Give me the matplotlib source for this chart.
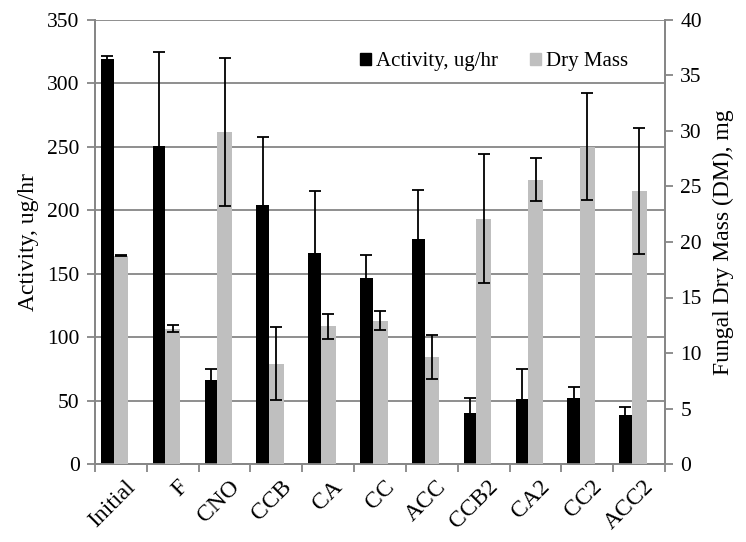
import matplotlib
matplotlib.use('Agg')
import matplotlib.pyplot as plt
import numpy as np
from matplotlib.patches import Patch

plt.rcParams['font.family'] = ['Liberation Serif', 'DejaVu Serif']

categories = ['Initial', 'F', 'CNO', 'CCB', 'CA', 'CC', 'ACC', 'CCB2', 'CA2', 'CC2', 'ACC2']
activity = [319, 251, 66, 204, 166, 147, 177, 40, 51, 52, 39]
activity_err = [3, 74, 9, 54, 49, 18, 39, 12, 24, 9, 6]
dry_mass = [18.75, 12.2, 29.9, 9.05, 12.4, 12.9, 9.65, 22.1, 25.6, 28.6, 24.6]
dry_mass_err = [0.05, 0.35, 6.7, 3.3, 1.15, 0.85, 2.0, 5.8, 1.95, 4.8, 5.7]

black = '#000000'
gray = '#bfbfbf'
axis_gray = '#868686'

fig = plt.figure(figsize=(7.46, 5.42), dpi=100)
ax = fig.add_axes([95 / 746, 78 / 542, 570 / 746, 444 / 542])
ax2 = ax.twinx()

x = np.arange(len(categories))
ax.bar(x - 0.5 + 0.115, activity, width=0.245, align='edge', color=black, zorder=3)
ax.errorbar(x - 0.5 + 0.115 + 0.1225, activity, yerr=activity_err, fmt='none',
            ecolor=black, elinewidth=1.3, capsize=4.3, capthick=1.3, zorder=4)
ax2.bar(x - 0.5 + 0.36, dry_mass, width=0.285, align='edge', color=gray, zorder=3)
ax2.errorbar(x - 0.5 + 0.36 + 0.1425, dry_mass, yerr=dry_mass_err, fmt='none',
             ecolor=black, elinewidth=1.3, capsize=4.3, capthick=1.3, zorder=4)

ax.set_xlim(-0.5, len(categories) - 0.5)
ax.set_ylim(0, 350)
ax2.set_ylim(0, 40)
ax.set_yticks(np.arange(0, 351, 50))
ax2.set_yticks(np.arange(0, 41, 5))

ax.yaxis.grid(True, color=axis_gray, linewidth=1.3, zorder=0)
ax.set_axisbelow(True)

ax.set_xticks(np.arange(-0.5, len(categories), 1.0))
ax.set_xticklabels([])
ax.set_xticks(x + 0.08, minor=True)
ax.set_xticklabels(categories, minor=True, rotation=45, ha='right', va='top',
                   rotation_mode='anchor', fontsize=17)
ax.tick_params(axis='x', which='minor', length=0, pad=9)
ax.tick_params(axis='x', which='major', length=6, width=1.3, color=axis_gray, direction='out')
ax.tick_params(axis='y', length=6, width=1.3, color=axis_gray, labelsize=15.5, pad=5)
ax2.tick_params(axis='y', length=6, width=1.3, color=axis_gray, labelsize=15.5, pad=5)

for a in (ax, ax2):
    for side in ('left', 'right', 'bottom'):
        a.spines[side].set_color(axis_gray)
        a.spines[side].set_linewidth(1.3)
    a.spines['top'].set_visible(False)

ax.set_ylabel('Activity, ug/hr', fontsize=17, labelpad=6)
ax2.set_ylabel('Fungal Dry Mass (DM), mg', fontsize=17, labelpad=8)

handles = [Patch(color=black, label='Activity, ug/hr'), Patch(color=gray, label='Dry Mass')]
leg = ax2.legend(handles=handles, loc='upper right', bbox_to_anchor=(0.965, 0.965), ncol=2,
                 frameon=True, fontsize=15, handlelength=0.55, handleheight=0.55,
                 handletextpad=0.25, columnspacing=1.5, borderpad=0.3)
leg.get_frame().set_edgecolor('none')
leg.get_frame().set_facecolor('white')
leg.get_frame().set_alpha(1)

fig.savefig('out.png', dpi=100)
